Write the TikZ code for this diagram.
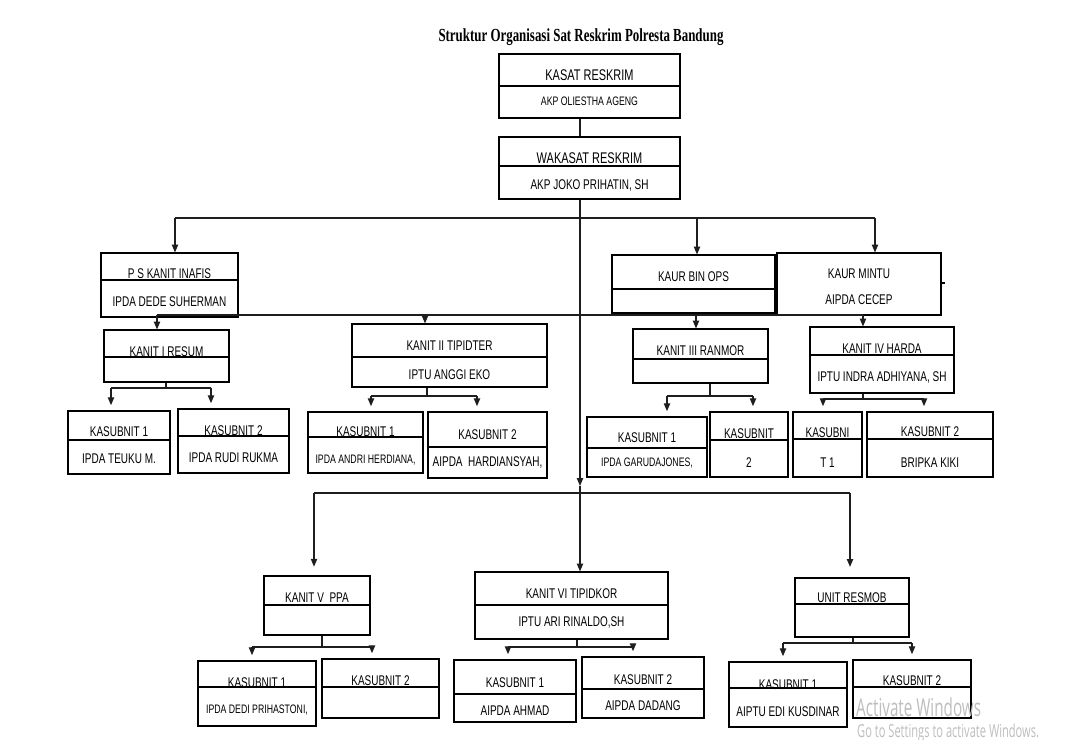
\documentclass[tikz,border=0pt]{standalone}
\usepackage{fontspec}
\setmainfont{Liberation Sans}[FakeStretch=0.71]
\newfontfamily\titlefont{Liberation Serif}[FakeStretch=0.70]
\newfontfamily\winfont{Open Sans}[FakeStretch=0.62]
\usetikzlibrary{arrows.meta,fit}
\definecolor{orgline}{RGB}{30,30,30}
\definecolor{wingray}{RGB}{190,190,190}
\newcommand{\headtxt}{\fontsize{8.8}{10}\selectfont}
\newcommand{\smalltxt}{\fontsize{7}{8}\selectfont}

% box with a divider, a title above it and a name below it
\newcommand{\orgbox}[8]{%
  \node[box, fit={(#2) (#3)}] (#1) {};
  \draw[divider] (#1.west |- 0,#4) -- (#1.east |- 0,#4);
  \node[lbl] (#1-top) at (#1.center |- 0,#5) {#6};
  \if\relax\detokenize{#8}\relax\else
    \node[lbl] (#1-bot) at (#1.center |- 0,#7) {#8};
  \fi
}

% stem, bar and two arrows down to the sub units
\newcommand{\kids}[7]{%
  \coordinate (#1-stem) at (#2,#3);
  \coordinate (#1-l) at (#4,#3);
  \coordinate (#1-r) at (#5,#3);
  \draw[line] (#1.south -| #1-stem) -- (#1-stem);
  \draw[line] (#1-l) -- (#1-r);
  \draw[arrow, shorten >=3pt] (#1-l) -- (#6.north -| #1-l);
  \draw[arrow, shorten >=3pt] (#1-r) -- (#7.north -| #1-r);
}

\begin{document}
\begin{tikzpicture}[
    x=0.02cm, y=-0.02cm,
    box/.style={rectangle, draw=black, line width=0.6pt, inner sep=0pt},
    divider/.style={draw=black, line width=0.6pt},
    lbl/.style={inner sep=0pt, font=\fontsize{8}{9}\selectfont},
    line/.style={draw=orgline, line width=0.7pt},
    arrow/.style={line, -{Triangle[length=4.5pt,width=3.6pt]}}
]
\useasboundingbox[fill=white] (0,0) rectangle (1069,740);

% Title
\node[font=\titlefont\bfseries\fontsize{10.5}{12}\selectfont] (title) at (581,37) {Struktur Organisasi Sat Reskrim Polresta Bandung};

% Top
\orgbox{kasat}{499,54}{680,118}{86}{75}{\headtxt KASAT RESKRIM}{101}{\smalltxt AKP OLIESTHA AGENG}
\orgbox{wakasat}{499,137}{680,199}{166}{158}{\headtxt WAKASAT RESKRIM}{185}{AKP JOKO PRIHATIN, SH}

% Staff row
\orgbox{inafis}{101,253}{238,317}{280}{274}{P S KANIT INAFIS}{302}{IPDA DEDE SUHERMAN}
\orgbox{binops}{612,255}{775,313}{289}{277}{KAUR BIN OPS}{301}{}
\node[box, fit={(777,253) (941,315)}] (mintu) {};
\node[lbl] (mintu-top) at (mintu.center |- 0,274) {KAUR MINTU};
\node[lbl] (mintu-bot) at (mintu.center |- 0,300) {AIPDA CECEP};
\draw[divider] (mintu.east |- 0,283) -- ++(3,0);

% Kanit I - IV
\orgbox{resum}{104,330}{229,382}{357}{352}{KANIT I RESUM}{370}{}
\orgbox{tipidter}{352,324}{547,387}{357}{346}{KANIT II TIPIDTER}{375}{IPTU ANGGI EKO}
\orgbox{ranmor}{633,329}{768,383}{359}{351}{KANIT III RANMOR}{371}{}
\orgbox{harda}{810,327}{954,393}{355}{349}{KANIT IV HARDA}{377}{IPTU INDRA ADHIYANA, SH}

\orgbox{sub1a}{68,411}{170,474}{440}{432}{KASUBNIT 1}{459}{IPDA TEUKU M.}
\orgbox{sub1b}{178,409}{289,473}{436}{431}{KASUBNIT 2}{458}{IPDA RUDI RUKMA}
\orgbox{sub2a}{308,412}{423,473}{437}{432}{KASUBNIT 1}{460}{\smalltxt IPDA ANDRI HERDIANA,}
\orgbox{sub2b}{428,412}{547,478}{447}{435}{KASUBNIT 2}{462}{AIPDA\ \ HARDIANSYAH,}
\orgbox{sub3a}{587,417}{707,477}{448}{438}{KASUBNIT 1}{463}{\smalltxt IPDA GARUDAJONES,}
\orgbox{sub3b}{710,412}{788,477}{440}{434}{KASUBNIT}{463}{2}
\orgbox{sub4a}{793,412}{862,477}{439}{433}{KASUBNI}{463}{T 1}
\orgbox{sub4b}{867,412}{993,477}{439}{432}{KASUBNIT 2}{463}{BRIPKA KIKI}

% Kanit V, VI and Resmob
\orgbox{ppa}{264,576}{370,635}{605}{598}{KANIT V\ \ PPA}{620}{}
\orgbox{tipidkor}{475,572}{668,639}{605}{594}{KANIT VI TIPIDKOR}{622}{IPTU ARI RINALDO,SH}
\orgbox{resmob}{795,578}{909,637}{604}{598}{UNIT RESMOB}{620}{}

\orgbox{sub5a}{198,661}{316,726}{687}{683}{KASUBNIT 1}{710}{\smalltxt IPDA DEDI PRIHASTONI,}
\orgbox{sub5b}{322,659}{439,718}{687}{681}{KASUBNIT 2}{700}{}
\orgbox{sub6a}{454,660}{576,722}{694}{683}{KASUBNIT 1}{711}{AIPDA AHMAD}
\orgbox{sub6b}{582,657}{704,718}{689}{680}{KASUBNIT 2}{706}{AIPDA DADANG}
\orgbox{sub7a}{729,662}{847,727}{688}{685}{KASUBNIT 1}{712}{AIPTU EDI KUSDINAR}
\orgbox{sub7b}{853,660}{971,718}{687}{681}{KASUBNIT 2}{700}{}

% Trunk
\coordinate (trunk) at (580,486);
\draw[line] (kasat.south -| 580,0) -- (wakasat.north -| 580,0);
\draw[arrow] (wakasat.south -| trunk) -- (trunk);
\draw[arrow] (trunk) -- (tipidkor.north -| trunk);

% First bus
\coordinate (bus1-l) at (175,218);
\coordinate (bus1-m) at (697,218);
\coordinate (bus1-r) at (875,218);
\draw[line] (bus1-l) -- (bus1-r);
\draw[arrow] (bus1-l) -- (inafis.north -| bus1-l);
\draw[arrow] (bus1-m) -- (binops.north -| bus1-m);
\draw[arrow] (bus1-r) -- (mintu.north -| bus1-r);

% Second bus
\coordinate (bus2-a) at (157,315);
\coordinate (bus2-b) at (425,315);
\coordinate (bus2-c) at (696,315);
\coordinate (bus2-d) at (863,315);
\draw[line] (bus2-a) -- (bus2-d);
\draw[arrow] (bus2-a) -- (resum.north -| bus2-a);
\draw[arrow] (bus2-b) -- (tipidter.north -| bus2-b);
\draw[arrow] (bus2-c) -- (ranmor.north -| bus2-c);
\draw[arrow] (bus2-d) -- (harda.north -| bus2-d);

% Third bus
\coordinate (bus3-l) at (314,493);
\coordinate (bus3-r) at (850,493);
\draw[line] (bus3-l) -- (bus3-r);
\draw[arrow, shorten >=5pt] (bus3-l) -- (ppa.north -| bus3-l);
\draw[arrow, shorten >=6pt] (bus3-r) -- (resmob.north -| bus3-r);

% Sub units
\kids{resum}{166}{388}{111}{211}{sub1a}{sub1b}
\kids{tipidter}{427}{396}{371}{477}{sub2a}{sub2b}
\kids{ranmor}{710}{396}{667}{753}{sub3a}{sub3b}
\kids{harda}{863}{399}{823}{924}{sub4a}{sub4b}
\kids{ppa}{322}{647}{252}{372}{sub5a}{sub5b}
\kids{tipidkor}{577}{647}{508}{633}{sub6a}{sub6b}
\kids{resmob}{853}{643}{783}{912}{sub7a}{sub7b}

% Watermark
\node[font=\winfont\fontsize{14}{16}\selectfont, text=wingray, anchor=west] (activate) at (850,707) {Activate Windows};
\node[font=\winfont\fontsize{10.2}{12}\selectfont, text=wingray, anchor=west] (gosettings) at (851,733) {Go to Settings to activate Windows.};
\end{tikzpicture}
\end{document}
